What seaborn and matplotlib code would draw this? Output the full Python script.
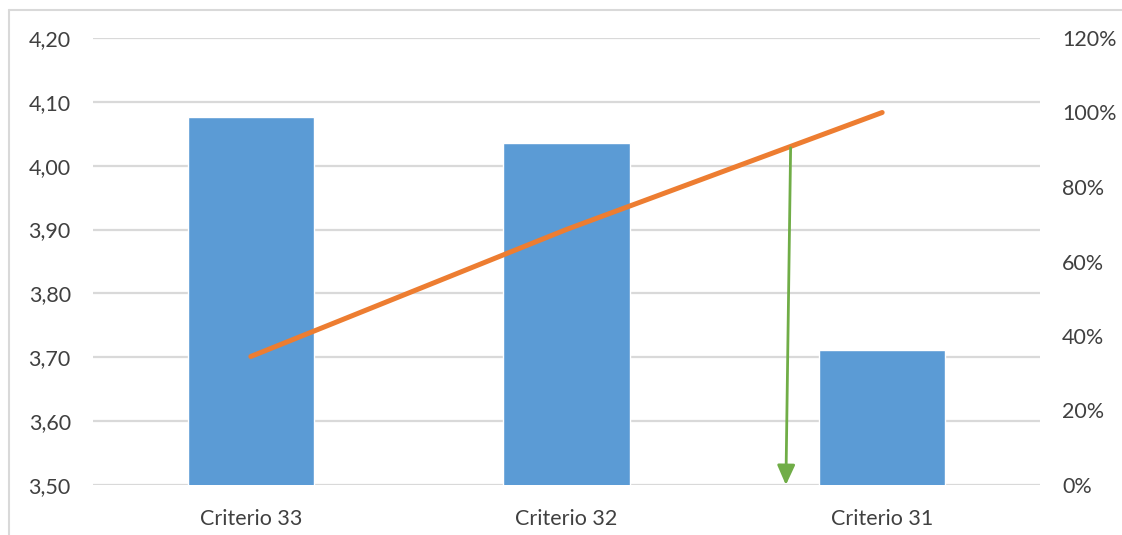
import matplotlib
matplotlib.use("Agg")
import matplotlib.pyplot as plt
import seaborn as sns
import pandas as pd
from matplotlib.ticker import FuncFormatter, FixedLocator
from matplotlib.lines import Line2D

categories = ["Criterio 33", "Criterio 32", "Criterio 31"]
scores = [4.076, 4.036, 3.712]
cumulative_pct = [34.5, 68.6, 100.0]
left_ticks = [3.50, 3.60, 3.70, 3.80, 3.90, 4.00, 4.10, 4.20]
right_ticks = [0, 20, 40, 60, 80, 100, 120]
arrow_x = [1.71, 1.695]          # start (on the line) and end (on the axis), category units
arrow_y = [90.5, 0.0]            # percent

sns.set_theme(style="white")
plt.rcParams['font.family'] = ['Lato', 'DejaVu Sans']

df = pd.DataFrame({"cat": categories, "score": scores, "cum": cumulative_pct})

fig = plt.figure(figsize=(11.22, 5.35), dpi=100)
ax = fig.add_axes([93/1122, 1-485/535, (1040-93)/1122, (485-38)/535])

sns.barplot(data=df, x="cat", y="score", color="#5B9BD5", width=0.4,
            saturation=1, ax=ax, zorder=2)
ax.set_ylim(3.5, 4.2)
ax.set_xlim(-0.5, 2.5)
ax.yaxis.set_major_locator(FixedLocator(left_ticks))
ax.yaxis.set_major_formatter(FuncFormatter(lambda v, p: f"{v:.2f}".replace(".", ",")))
ax.grid(axis="y", color="#D9D9D9", linewidth=1.6, zorder=0)
ax.set_axisbelow(True)
for s in ax.spines.values():
    s.set_visible(False)
ax.set_xlabel("")
ax.set_ylabel("")
ax.tick_params(axis="y", length=0, pad=16, labelsize=15.5, colors="#404040")
ax.tick_params(axis="x", length=0, pad=17, labelsize=15.5, colors="#404040")

ax2 = ax.twinx()
ax2.plot(range(len(categories)), df["cum"], color="#ED7D31", linewidth=3.6,
         solid_capstyle="round", zorder=3)
ax2.set_ylim(0, 120)
ax2.yaxis.set_major_locator(FixedLocator(right_ticks))
ax2.yaxis.set_major_formatter(FuncFormatter(lambda v, p: f"{int(v)}%"))
for s in ax2.spines.values():
    s.set_visible(False)
ax2.tick_params(axis="y", length=0, pad=16, labelsize=15.5, colors="#404040")
ax2.set_ylabel("")
ax2.grid(False)

ax2.annotate("", xy=(arrow_x[1], arrow_y[1]), xytext=(arrow_x[0], arrow_y[0]),
             arrowprops=dict(arrowstyle="-|>,head_length=1.0,head_width=0.45",
                             color="#70AD47", linewidth=2.0, shrinkA=0, shrinkB=0),
             zorder=4)

# chart area border (top and left edges visible)
fig.add_artist(Line2D([9/1122, 1.0], [1-10/535, 1-10/535], transform=fig.transFigure,
                      color="#D9D9D9", linewidth=1.5))
fig.add_artist(Line2D([9/1122, 9/1122], [0.0, 1-10/535], transform=fig.transFigure,
                      color="#D9D9D9", linewidth=1.5))

fig.savefig("out.png", dpi=100)
